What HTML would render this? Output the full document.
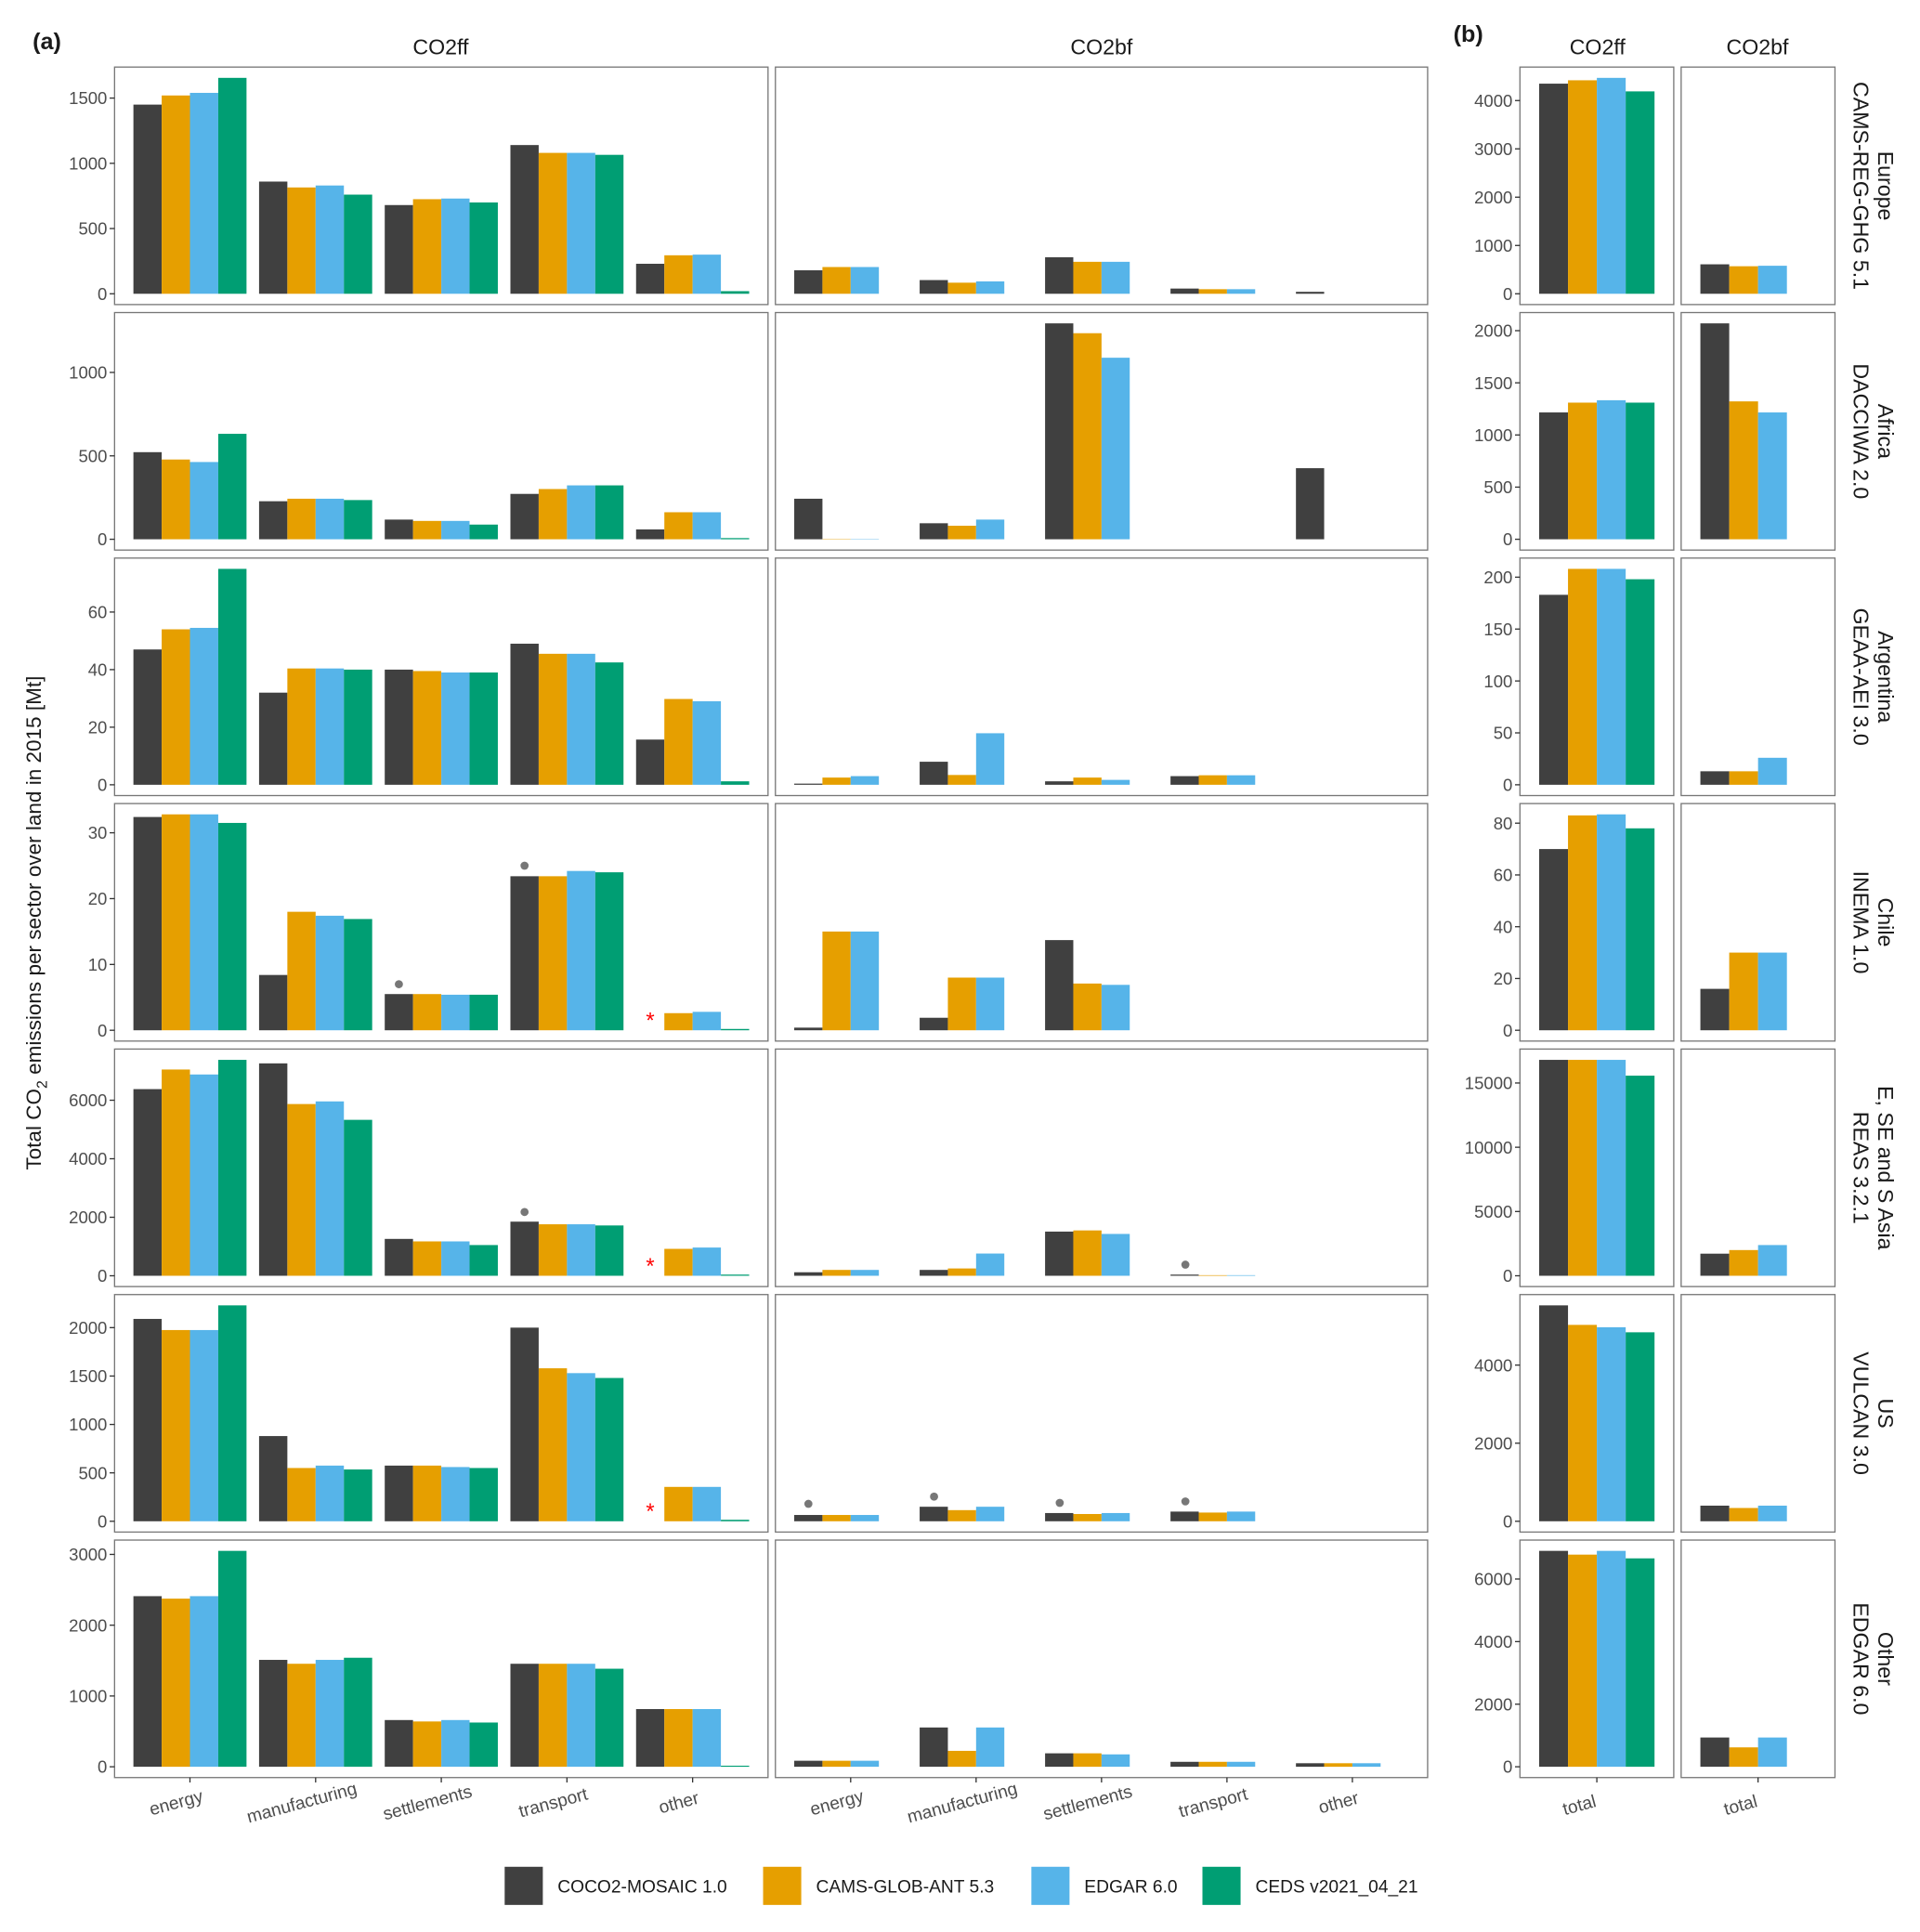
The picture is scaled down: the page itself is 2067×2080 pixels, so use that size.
<!DOCTYPE html>
<html><head><meta charset="utf-8"><style>
html,body{margin:0;padding:0;background:#fff;}
svg{display:block;font-family:"Liberation Sans",sans-serif;}
</style></head><body>
<svg id="c" width="2067" height="2080" viewBox="0 0 1560 1570" xmlns="http://www.w3.org/2000/svg"></svg>
<script>
const sectors=["energy","manufacturing","settlements","transport","other"];
const datasets=["COCO2-MOSAIC 1.0","CAMS-GLOB-ANT 5.3","EDGAR 6.0","CEDS v2021_04_21"];
const colors=["#404040","#E69F00","#56B4E9","#009E73"];
const regions=[["Europe","CAMS-REG-GHG 5.1"],["Africa","DACCIWA 2.0"],["Argentina","GEAA-AEI 3.0"],["Chile","INEMA 1.0"],["E, SE and S Asia","REAS 3.2.1"],["US","VULCAN 3.0"],["Other","EDGAR 6.0"]];
const ffA=[
[[1450,1520,1540,1655],[860,815,830,760],[680,725,730,700],[1140,1080,1080,1065],[230,295,300,20]],
[[522,478,463,632],[228,243,243,235],[118,110,110,88],[272,301,323,323],[59,162,162,7]],
[[47,54,54.5,75],[32,40.4,40.4,40],[40,39.5,39,39],[49,45.5,45.5,42.5],[15.7,29.8,29,1.2]],
[[32.4,32.8,32.8,31.5],[8.4,18,17.4,16.9],[5.5,5.5,5.4,5.4],[23.4,23.4,24.2,24],[null,2.6,2.8,0.2]],
[[6380,7050,6880,7380],[7260,5870,5960,5330],[1260,1175,1175,1050],[1850,1760,1760,1720],[null,920,965,40]],
[[2090,1975,1975,2230],[880,550,575,535],[575,575,560,550],[2000,1580,1530,1480],[null,355,355,15]],
[[2410,2375,2410,3050],[1510,1455,1510,1540],[660,640,660,625],[1455,1455,1455,1385],[815,815,815,15]]];
const bfA=[
[[180,205,205],[105,85,95],[280,245,245],[40,35,35],[15,null,null]],
[[243,2,2],[96,81,118],[1294,1235,1088],[null,null,null],[426,null,null]],
[[0.4,2.5,3],[8,3.4,17.9],[1.2,2.5,1.7],[3,3.3,3.3],[null,null,null]],
[[0.4,15,15],[1.9,8,8],[13.7,7.1,6.9],[null,null,null],[null,null,null]],
[[120,200,200],[200,250,760],[1510,1550,1430],[40,20,20],[null,null,null]],
[[65,65,65],[150,115,150],[85,75,85],[100,90,100],[null,null,null]],
[[85,85,85],[555,225,555],[190,190,175],[70,70,70],[50,50,50]]];
const ffB=[[4350,4420,4470,4190],[1216,1310,1333,1310],[183,208,208,198],[70,83,83.4,78],[16800,16800,16800,15570],[5530,5030,4970,4840],[6900,6780,6900,6660]];
const bfB=[[610,570,580],[2070,1322,1216],[13,13,26],[16,30,30],[1720,2000,2390],[400,340,400],[935,620,935]];
const ticksA=[[0,500,1000,1500],[0,500,1000],[0,20,40,60],[0,10,20,30],[0,2000,4000,6000],[0,500,1000,1500,2000],[0,1000,2000,3000]];
const ticksB=[[0,1000,2000,3000,4000],[0,500,1000,1500,2000],[0,50,100,150,200],[0,20,40,60,80],[0,5000,10000,15000],[0,2000,4000],[0,2000,4000,6000]];
const dots=[[3,0,2,7],[3,0,3,25],[4,0,3,2180],[4,1,3,380],[5,1,0,180],[5,1,1,255],[5,1,2,190],[5,1,3,205]];
const stars=[3,4,5];

const svg=document.getElementById('c');
const NS="http://www.w3.org/2000/svg";
function mk(tag,attrs,parent){const e=document.createElementNS(NS,tag);for(const k in attrs)e.setAttribute(k,attrs[k]);(parent||svg).appendChild(e);return e;}
const PH=193, STEP=199.5, TOP0=54.5;
const colsA=[[93,624],[630,1160]], colsB=[[1235,1360],[1366,1491]];
function maxOf(arrs){let m=0;arrs.flat(3).forEach(v=>{if(v!=null&&v>m)m=v;});return m;}
function yfn(top,max){const b=top+PH;return v=>b-(0.05+v/max)*PH/1.1;}

function drawBars(grp,left,right,ncat,vals,y,rowName,panelName){
  const unit=(right-left)/(ncat+0.2);
  for(let k=0;k<ncat;k++){
    const c=left+(0.6+k)*unit;
    vals[k].forEach((v,j)=>{
      if(v==null)return;
      const x=c-0.45*unit+j*0.225*unit;
      const r=mk('rect',{x:x,y:y(v),width:0.225*unit,height:Math.max(0.3,y(0)-y(v)),fill:colors[j]},grp);
      
      
    });
  }
  return unit;
}
function frame(l,r,top,name){const f=mk('rect',{x:l,y:top,width:r-l,height:PH,fill:'none',stroke:'#777','stroke-width':1});}
function yaxis(l,ticks,y,name){
  const g=mk('g',{});
  ticks.forEach(t=>{mk('line',{x1:l-4,x2:l,y1:y(t),y2:y(t),stroke:'#333','stroke-width':1},g);
    const tx=mk('text',{x:l-6,y:y(t)+5,'text-anchor':'end','font-size':14,fill:'#4d4d4d'},g);tx.textContent=t;});
}

for(let i=0;i<7;i++){
  const top=TOP0+i*STEP, rn='row'+i;
  const maxA=maxOf([ffA[i],bfA[i]]); const ya=yfn(top,maxA);
  const g=mk('g',{});  
  drawBars(g,colsA[0][0],colsA[0][1],5,ffA[i],ya,rn,'a-ff');
  drawBars(g,colsA[1][0],colsA[1][1],5,bfA[i],ya,rn,'a-bf');
  frame(colsA[0][0],colsA[0][1],top,'panel-a-co2ff-'+i);
  frame(colsA[1][0],colsA[1][1],top,'panel-a-co2bf-'+i);
  yaxis(colsA[0][0],ticksA[i],ya,'y-axis-a-'+i);
  const maxB=maxOf([ffB[i],bfB[i]]); const yb=yfn(top,maxB);
  drawBars(g,colsB[0][0],colsB[0][1],1,[ffB[i]],yb,rn,'b-ff');
  drawBars(g,colsB[1][0],colsB[1][1],1,[bfB[i]],yb,rn,'b-bf');
  frame(colsB[0][0],colsB[0][1],top,'panel-b-co2ff-'+i);
  frame(colsB[1][0],colsB[1][1],top,'panel-b-co2bf-'+i);
  yaxis(colsB[0][0],ticksB[i],yb,'y-axis-b-'+i);
  const cx=1522, cy=top+PH/2;
  const st=mk('text',{transform:`translate(${cx},${cy}) rotate(90)`,'text-anchor':'middle','font-size':17.5,fill:'#1a1a1a'},g);
  
  
  const t1=mk('tspan',{x:0,y:-4},st);t1.textContent=regions[i][0];
  const t2=mk('tspan',{x:0,y:16},st);t2.textContent=regions[i][1];
  if(stars.includes(i)){const unit=531/5.2;const x=93+4.6*unit-0.3375*unit;
    const s=mk('text',{x:x,y:ya(0)-2,'text-anchor':'middle','font-size':18,fill:'#ff0000'},g);s.textContent='*';
    }
}
dots.forEach(d=>{const [i,p,k,v]=d;const top=TOP0+i*STEP;const ya=yfn(top,maxOf([ffA[i],bfA[i]]));
  const unit=531/5.2;const x=colsA[p][0]+(0.6+k)*unit-0.3375*unit;
  const c=mk('circle',{cx:x,cy:ya(v),r:3.3,fill:'#777'});
  });
const bot=TOP0+6*STEP+PH;
colsA.forEach((cl,p)=>{const unit=(cl[1]-cl[0])/5.2;sectors.forEach((s,k)=>{const x=cl[0]+(0.6+k)*unit;
  mk('line',{x1:x,x2:x,y1:bot,y2:bot+4,stroke:'#333'});
  const t=mk('text',{transform:`translate(${x-10},${bot+25}) rotate(-15)`,'text-anchor':'middle','font-size':14.5,fill:'#4d4d4d'});t.textContent=s;
  });});
colsB.forEach(cl=>{const x=cl[0]+0.6*(cl[1]-cl[0])/1.2;mk('line',{x1:x,x2:x,y1:bot,y2:bot+4,stroke:'#333'});
  const t=mk('text',{transform:`translate(${x-13},${bot+27}) rotate(-15)`,'text-anchor':'middle','font-size':14.5,fill:'#4d4d4d'});t.textContent='total';
  });
function txt(x,y,s,size,name,extra){const t=mk('text',Object.assign({x:x,y:y,'font-size':size,fill:'#1a1a1a','text-anchor':'middle'},extra||{}));t.textContent=s;return t;}
txt(38,40,'(a)',19,'panel-label-a',{'font-weight':'bold'});
txt(1193,34,'(b)',19,'panel-label-b',{'font-weight':'bold'});
txt(358,44,'CO2ff',17.5,'strip-co2ff-a');
txt(895,44,'CO2bf',17.5,'strip-co2bf-a');
txt(1298,44,'CO2ff',17.5,'strip-co2ff-b');
txt(1428,44,'CO2bf',17.5,'strip-co2bf-b');
const yt=mk('text',{transform:'translate(33,750) rotate(-90)','text-anchor':'middle','font-size':17,fill:'#1a1a1a'});

yt.innerHTML='Total CO<tspan font-size="12" dy="5">2</tspan><tspan dy="-5"> emissions per sector over land in 2015 [Mt]</tspan>';
const lx=[410,620,838,977];
datasets.forEach((d,j)=>{const g=mk('g',{});
  mk('rect',{x:lx[j],y:1517,width:31,height:31,fill:colors[j]},g);
  const t=mk('text',{x:lx[j]+43,y:1538,'font-size':14.5,fill:'#1a1a1a'},g);t.textContent=d;});
</script>
</body></html>
